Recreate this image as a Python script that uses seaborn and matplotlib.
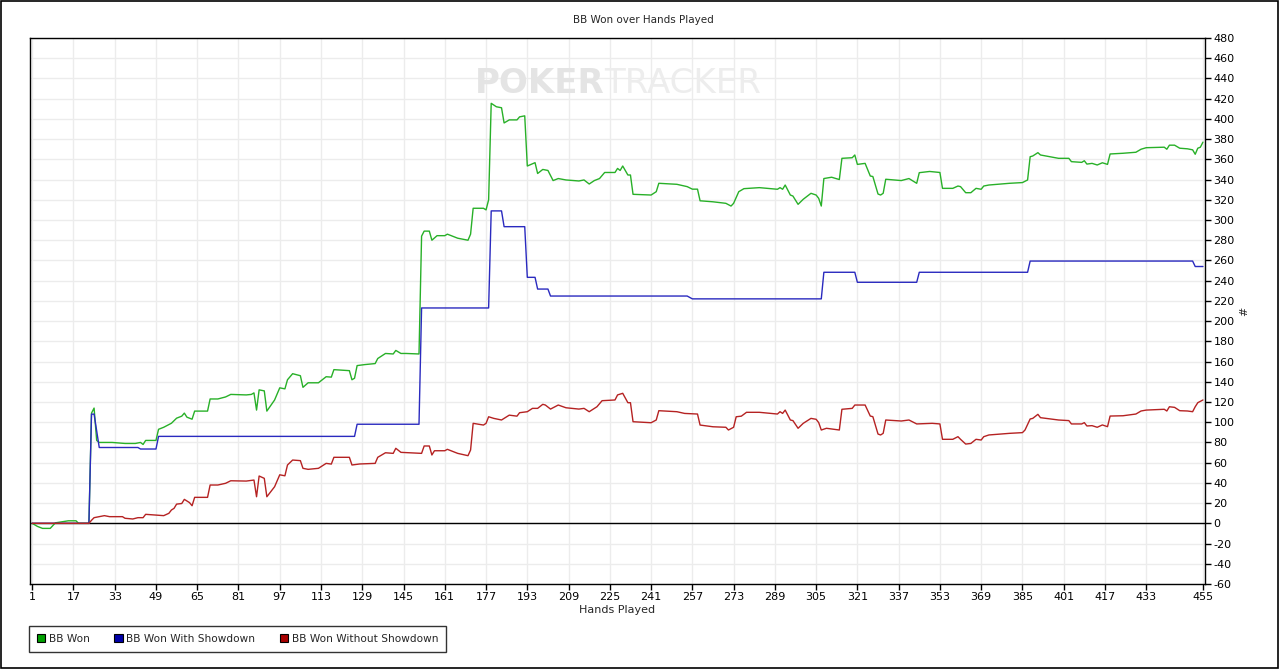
import numpy as np
import pandas as pd
import matplotlib
matplotlib.use("Agg")
import matplotlib.pyplot as plt
import seaborn as sns
from matplotlib.patches import Patch, Rectangle

# ---------------- data ----------------
green_hands = [1, 3, 5, 8, 10, 15, 18, 19, 23, 24, 25, 26, 27, 32, 37, 41, 43, 44, 45, 49,
               50, 52, 55, 57, 59, 60, 61, 63, 64, 69, 70, 73, 76, 78, 84, 86, 87, 88, 89, 91,
               92, 95, 97, 99, 100, 102, 105, 106, 108, 112, 115, 117, 118, 124, 125, 126, 127, 130, 134, 135,
               138, 141, 142, 144, 146, 151, 152, 153, 155, 156, 158, 161, 162, 166, 170, 171, 172, 176, 177, 178,
               179, 181, 183, 184, 186, 189, 190, 192, 193, 196, 197, 199, 201, 203, 205, 208, 213, 215, 217, 219,
               221, 223, 227, 228, 229, 230, 232, 233, 234, 241, 243, 244, 251, 255, 257, 259, 260, 265, 270, 272,
               273, 275, 277, 283, 290, 291, 292, 293, 295, 296, 298, 300, 303, 305, 306, 307, 308, 311, 314, 315,
               319, 320, 321, 324, 326, 327, 329, 330, 331, 332, 338, 341, 344, 345, 349, 353, 354, 358, 360, 361,
               363, 365, 367, 369, 370, 372, 380, 385, 387, 388, 389, 391, 392, 399, 403, 404, 408, 409, 410, 412,
               414, 416, 418, 419, 424, 429, 431, 433, 440, 441, 442, 444, 446, 449, 451, 452, 453, 454, 455]
green_values = [0, -3, -5, -5, 0.5, 2.5, 2.5, 0, 0, 109, 114, 82, 80, 80, 79, 79, 80, 78, 82, 82,
                93, 95, 99, 104, 106, 109, 105, 103, 111, 111, 123, 123, 125, 127.5, 127, 127.5, 129, 112, 132, 131,
                111, 122, 134, 133, 142, 148, 146, 134.5, 139, 139, 145, 144.6, 152, 151, 142, 143.5, 156, 157, 158, 163,
                168, 167.5, 171, 168, 168, 167.5, 284, 289, 289, 280, 284.5, 284.5, 286, 282, 280, 286, 311.6, 311.6, 310, 320,
                415.4, 412, 411, 396, 399, 399, 402, 403, 353.4, 356.7, 346, 350, 349, 339, 341, 339.6, 338.6, 339.6, 335.6, 339,
                341, 347, 347, 351, 349, 353.4, 344.5, 344.5, 325.4, 324.7, 328, 336.3, 335.3, 333, 330.5, 330.5, 319, 318, 316.5, 313.8,
                316.5, 328, 331, 332, 330.4, 332, 330.4, 334.6, 324.7, 323.7, 315.5, 320.5, 326.4, 324.7, 321.4, 313.8, 341, 342.3, 340, 361,
                361.6, 364.3, 355, 356, 343.5, 343, 325.7, 324.7, 326.4, 340.3, 339, 341, 336.3, 346.8, 348, 347, 331.3, 331.3, 333.6, 333,
                327, 327, 331.3, 330.4, 333.6, 334.6, 336.3, 337, 339.6, 362.6, 363.3, 366.6, 364.3, 361, 361, 357.7, 357, 358.6, 355.3, 356,
                354.4, 356.6, 355, 365.3, 366, 367, 370, 371.5, 372, 370, 374, 374, 371, 370.4, 369.4, 365, 371, 372, 377]

blue_hands = [1, 23, 24, 25, 27, 42, 43, 49, 50, 126, 127, 151, 152, 178, 179, 183, 184, 192, 193, 196,
              197, 201, 202, 255, 257, 307, 308, 320, 321, 344, 345, 387, 388, 451, 452, 455]
blue_values = [0, 0, 108, 108, 75, 75, 73.5, 73.5, 86, 86, 98, 98, 213, 213, 309, 309, 293.4, 293.4, 243.3, 243.3,
               231.7, 231.7, 224.8, 224.8, 222, 222, 248.3, 248.3, 238.4, 238.4, 248.3, 248.3, 259.4, 259.4, 254, 254]

red_hands = [1, 23, 24, 25, 27, 29, 31, 36, 37, 40, 42, 44, 45, 49, 52, 54, 55, 56, 57, 59,
             60, 62, 63, 64, 69, 70, 73, 76, 78, 84, 87, 88, 89, 91, 92, 95, 97, 99, 100, 102,
             105, 106, 108, 112, 115, 117, 118, 124, 125, 128, 134, 135, 138, 141, 142, 144, 152, 153, 155, 156,
             157, 161, 162, 166, 170, 171, 172, 176, 177, 178, 180, 183, 186, 189, 190, 193, 195, 197, 199, 200,
             202, 205, 208, 213, 215, 217, 219, 220, 222, 227, 228, 230, 232, 233, 234, 241, 243, 244, 251, 254,
             259, 260, 265, 270, 271, 273, 274, 276, 278, 283, 290, 291, 292, 293, 295, 296, 298, 300, 303, 305,
             306, 307, 309, 311, 314, 315, 319, 320, 324, 326, 327, 329, 330, 331, 332, 338, 341, 344, 350, 353,
             354, 358, 360, 361, 363, 365, 367, 369, 370, 372, 380, 385, 386, 388, 389, 391, 392, 399, 403, 404,
             408, 409, 410, 412, 414, 416, 418, 419, 424, 429, 431, 433, 440, 441, 442, 444, 446, 449, 451, 452,
             453, 455]
red_values = [0, 0, 3, 5.6, 6.6, 7.6, 6.6, 6.6, 5, 4.3, 5.6, 5.6, 8.9, 8.2, 7.6, 9.9, 13.2, 14.8, 19, 19.6,
              23.7, 20.5, 17.4, 25.7, 25.7, 37.9, 37.9, 39.6, 42.1, 41.8, 42.8, 26.3, 46.8, 44.5, 26.3, 36.2, 48, 47, 57.7, 62.6,
              62, 54.4, 53.4, 54.4, 59.3, 58.6, 65.3, 65.3, 57.7, 58.7, 59.3, 65.3, 69.8, 69.2, 74.2, 70.2, 69.2, 76.5, 76.5, 67.6,
              71.8, 71.8, 73.2, 69.2, 66.9, 72.5, 98.9, 97.2, 98.9, 105.4, 103.8, 102.2, 107, 106, 109.4, 110.4, 113.7, 113.7, 117.7, 117,
              113, 117, 114.3, 113, 113.7, 110.4, 113.7, 115.3, 121.3, 122, 127, 128.6, 119.3, 119.3, 100.5, 99.5, 102.2, 111.4, 110.4, 108.7,
              108.1, 97.2, 95.5, 95, 92.3, 95, 105.4, 106, 109.8, 109.8, 108.1, 110.4, 108.7, 112, 102.2, 101.6, 94, 98.9, 103.8, 102.9,
              99.6, 92.3, 94, 93.3, 92.3, 112.8, 113.7, 117, 117, 106.1, 105.5, 88.3, 87.4, 89, 102.2, 101.2, 102.2, 98.3, 98.9, 98.3,
              83.1, 83.1, 85.7, 83.1, 78.4, 79, 83.1, 82.4, 85.7, 87.4, 89, 89.7, 92.3, 103.2, 103.8, 107.8, 104.5, 102.2, 101.6, 98.3,
              98.3, 99.6, 96.3, 96.6, 95, 97.3, 95.6, 106.1, 106.4, 108.1, 111.1, 112, 112.8, 111.1, 115.3, 114.7, 111.4, 111.1, 110.4, 115.3,
              119.3, 122]

series_names = ["BB Won", "BB Won With Showdown", "BB Won Without Showdown"]
x_ticks = [1, 17, 33, 49, 65, 81, 97, 113, 129, 145, 161, 177, 193, 209, 225, 241,
           257, 273, 289, 305, 321, 337, 353, 369, 385, 401, 417, 433, 455]
y_ticks = list(range(-60, 481, 20))

# ---------------- build table ----------------
frames = []
for name, hs, vs in zip(series_names, [green_hands, blue_hands, red_hands],
                        [green_values, blue_values, red_values]):
    frames.append(pd.DataFrame({"hand": hs, "bb": vs, "series": name}))
df = pd.concat(frames, ignore_index=True)

line_colors = {"BB Won": "#28b028", "BB Won With Showdown": "#2a2abf",
               "BB Won Without Showdown": "#b52222"}
legend_colors = ["#00a000", "#0000a8", "#a80000"]

# ---------------- plotting ----------------
sns.set_theme(style="white")
plt.rcParams["font.family"] = ["DejaVu Sans"]
plt.rcParams["axes.unicode_minus"] = False

W, H = 1280, 670
fig = plt.figure(figsize=(W / 100, H / 100), dpi=100)
ax = fig.add_axes([30 / W, 1 - 584 / H, (1205 - 30) / W, (584 - 38) / H])
ax.set_facecolor("white")

ax.set_xlim(0.15, 455.8)
ax.set_ylim(-60, 480)

ax.set_xticks(x_ticks)
ax.set_yticks(y_ticks)
ax.grid(True, color="#ececec", linewidth=1.0)
ax.set_axisbelow(True)
ax.axhline(0, color="black", linewidth=1.0, zorder=2)

# watermark
ax.text(0.489, 0.916, "POKER", transform=ax.transAxes, ha="right", va="center",
        fontsize=24.5, fontweight="bold", color="#e4e4e4", zorder=1)
ax.text(0.489, 0.916, "TRACKER", transform=ax.transAxes, ha="left", va="center",
        fontsize=24.5, color="#ededed", zorder=1)

sns.lineplot(data=df, x="hand", y="bb", hue="series", palette=line_colors,
             estimator=None, sort=False, legend=False, linewidth=1.0, ax=ax, zorder=3)

ax.yaxis.tick_right()
ax.yaxis.set_label_position("right")
ax.tick_params(axis="both", which="both", direction="out", length=4, width=1,
               color="black", labelsize=8, labelcolor="black")
ax.tick_params(axis="y", left=False, right=True, pad=2)
ax.tick_params(axis="x", bottom=True, pad=2)
for s in ax.spines.values():
    s.set_color("black")
    s.set_linewidth(1.0)
    s.set_visible(True)

ax.set_xlabel("Hands Played", fontsize=8, labelpad=2)
ax.set_ylabel("#", fontsize=8, rotation=90, labelpad=3)
fig.text(643 / W, 1 - 20 / H, "BB Won over Hands Played", ha="center",
         va="center", fontsize=7.5)

handles = [Patch(facecolor=c, edgecolor="black", linewidth=0.8) for c in legend_colors]
leg = fig.legend(handles, series_names, loc="lower left",
                 bbox_to_anchor=(29 / W, 1 - 652 / H), ncol=3, frameon=True,
                 fancybox=False, fontsize=7.6, handlelength=0.8, handleheight=0.8,
                 handletextpad=0.35, columnspacing=2.3, borderpad=0.75,
                 edgecolor="black", borderaxespad=0)
leg.get_frame().set_linewidth(1.0)

fig.patches.append(Rectangle((0.5 / W, 2 / H), 1 - 3 / W, 1 - 3 / H, transform=fig.transFigure,
                             fill=False, edgecolor="black", linewidth=1.2))

fig.savefig("out.png", dpi=100, facecolor="white")
